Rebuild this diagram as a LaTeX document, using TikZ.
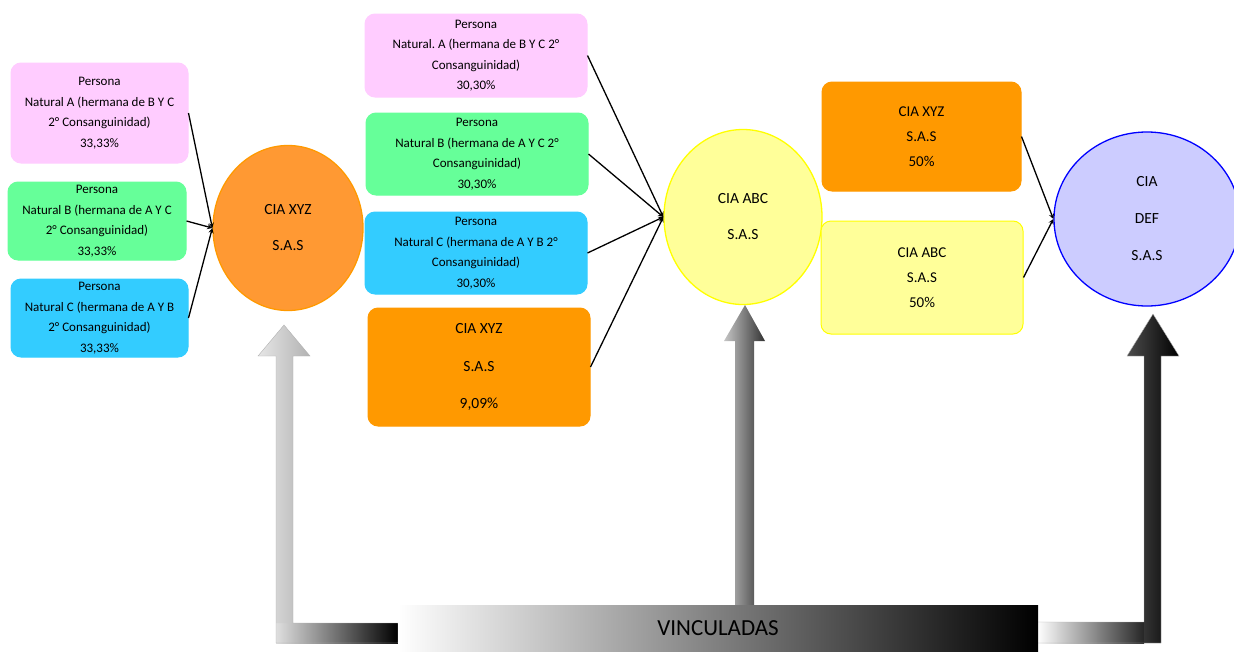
\documentclass[tikz,border=0pt]{standalone}
\usepackage{fontspec}
\setmainfont{Carlito}
\usepackage{tikz}
\usetikzlibrary{arrows,shapes.geometric}
\definecolor{rosa}{HTML}{FFCCFF}
\definecolor{verde}{HTML}{66FF99}
\definecolor{celeste}{HTML}{33CCFF}
\definecolor{naranja}{HTML}{FF9900}
\definecolor{naranjaclaro}{HTML}{FF9933}
\definecolor{amarillo}{HTML}{FFFF99}
\definecolor{amarilloborde}{HTML}{FFFF00}
\definecolor{lila}{HTML}{CCCCFF}
\definecolor{azul}{HTML}{0000FF}

\begin{document}
\begin{tikzpicture}[x=1pt, y=-1pt,
  caja/.style={rectangle, rounded corners=10pt, align=center, inner sep=0pt, line width=1pt,
    font=\fontsize{13}{20.5}\selectfont},
  cajagrande/.style={caja, font=\fontsize{15}{25}\selectfont},
  cia/.style={ellipse, align=center, inner sep=0pt, line width=1.3pt,
    font=\fontsize{15.5}{36}\selectfont},
  flecha/.style={-stealth, line width=1.3pt}]
  \useasboundingbox (0,0) rectangle (1234,651);

  % socios de CIA XYZ
  \node[caja, fill=rosa, draw=rosa, minimum width=177, minimum height=100] (pA) at (99.5,113)
    {Persona\\Natural A (hermana de B Y C\\2° Consanguinidad)\\33,33\%};
  \node[caja, fill=verde, draw=verde, minimum width=178, minimum height=78] (pB) at (97,221)
    {Persona\\Natural B (hermana de A Y C\\2° Consanguinidad)\\33,33\%};
  \node[caja, fill=celeste, draw=celeste, minimum width=177, minimum height=78] (pC) at (99.5,318)
    {Persona\\Natural C (hermana de A Y B\\2° Consanguinidad)\\33,33\%};
  \node[cia, fill=naranjaclaro, draw=naranja, minimum width=150, minimum height=165] (eXYZ) at (288,228)
    {CIA XYZ\\S.A.S};

  % socios de CIA ABC
  \node[caja, fill=rosa, draw=rosa, minimum width=222, minimum height=83] (mA) at (476,55.5)
    {Persona\\Natural.\ A (hermana de B Y C 2°\\Consanguinidad)\\30,30\%};
  \node[caja, fill=verde, draw=verde, minimum width=222, minimum height=82] (mB) at (477,154)
    {Persona\\Natural B (hermana de A Y C 2°\\Consanguinidad)\\30,30\%};
  \node[caja, fill=celeste, draw=celeste, minimum width=222, minimum height=82] (mC) at (476,253)
    {Persona\\Natural C (hermana de A Y B 2°\\Consanguinidad)\\30,30\%};
  \node[caja, fill=naranja, draw=naranja, minimum width=222, minimum height=118,
    font=\fontsize{15.5}{37.5}\selectfont] (mXYZ) at (479,367)
    {CIA XYZ\\S.A.S\\9,09\%};
  \node[cia, fill=amarillo, draw=amarilloborde, minimum width=158, minimum height=175] (eABC) at (743,217)
    {CIA ABC\\S.A.S};

  % socios de CIA DEF
  \node[cajagrande, fill=naranja, draw=naranja, minimum width=199, minimum height=109] (rXYZ) at (921.5,136.5)
    {CIA XYZ\\S.A.S\\50\%};
  \node[cajagrande, fill=amarillo, draw=amarilloborde, minimum width=202, minimum height=113] (rABC) at (922,277.5)
    {CIA ABC\\S.A.S\\50\%};
  \node[cia, fill=lila, draw=azul, minimum width=186, minimum height=174,
    font=\fontsize{15.5}{37}\selectfont] (eDEF) at (1147,219)
    {CIA\\DEF\\S.A.S};

  \foreach \s in {pA,pB,pC}
    \draw[flecha] (\s.east) -- (eXYZ.west);
  \foreach \s in {mA,mB,mC,mXYZ}
    \draw[flecha] (\s.east) -- (eABC.west);
  \foreach \s in {rXYZ,rABC}
    \draw[flecha] (\s.east) -- (eDEF.west);

  % flechas de vinculadas
  \shade[left color=gray!25, right color=black] (276,623) rectangle (398,643);
  \shade[left color=gray!20, right color=gray!60]
    (276,623) -- (276,356) -- (258,356) -- (284,325) -- (310,356) -- (293,356) -- (293,623) -- cycle;
  \draw[gray!60, thin]
    (276,643) -- (276,356) -- (258,356) -- (284,325) -- (310,356) -- (293,356) -- (293,623) -- (398,623) -- (398,643) -- cycle;

  \shade[left color=gray!45, right color=black!80]
    (735,605) -- (735,341) -- (724,341) -- (745,305) -- (765,341) -- (754,341) -- (754,605) -- cycle;

  \shade[left color=white, right color=black!85] (1037,622) rectangle (1144,643);
  \shade[left color=black!70, right color=black]
    (1144,643) -- (1144,356) -- (1127,356) -- (1153,314) -- (1179,356) -- (1161,356) -- (1161,643) -- cycle;
  \draw[gray!60, thin]
    (1037,622) -- (1144,622) -- (1144,356) -- (1127,356) -- (1153,314) -- (1179,356) -- (1161,356) -- (1161,643) -- (1037,643);

  \node[left color=white, right color=black, minimum width=640, minimum height=46, inner sep=0pt,
    font=\fontsize{23}{23}\selectfont] (vinc) at (718,628) {VINCULADAS};
\end{tikzpicture}
\end{document}
